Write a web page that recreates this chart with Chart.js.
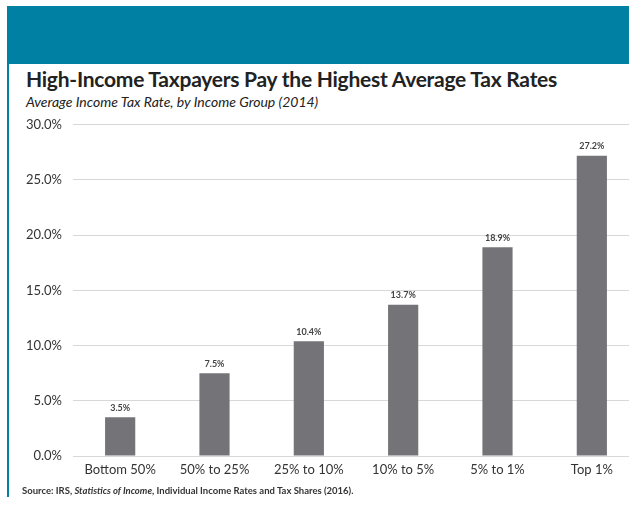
<!DOCTYPE html>
<html>
<head>
<meta charset="utf-8">
<script src="https://cdn.jsdelivr.net/npm/chart.js@4"></script>
<style>
  html, body { margin: 0; padding: 0; background: #fff; overflow: hidden; }
  body { width: 629px; height: 506px; position: relative; font-family: Lato, 'Open Sans', sans-serif; }
  #band { position: absolute; left: 7px; top: 6px; width: 640px; height: 58px; background: #0080a3; }
  #rule { position: absolute; left: 7px; top: 6px; width: 2px; height: 491px; background: #0080a3; }
  #title { position: absolute; left: 26px; top: 66px; font-size: 21px; font-weight: 700; color: #222; white-space: nowrap; letter-spacing: -0.25px; }
  #sub { position: absolute; left: 26px; top: 93px; font-size: 14px; font-style: italic; color: #222; white-space: nowrap; letter-spacing: 0; }
  #source { position: absolute; left: 22px; top: 485px; font-size: 9.5px; font-weight: 700; color: #333; white-space: nowrap; }
  #wrap { position: absolute; left: 0; top: 106px; width: 640px; height: 384px; }
</style>
</head>
<body>
<div id="band"></div>
<div id="rule"></div>
<div id="title">High-Income Taxpayers Pay the Highest Average Tax Rates</div>
<div id="sub">Average Income Tax Rate, by Income Group (2014)</div>
<div id="wrap"><canvas id="chart"></canvas></div>
<div id="source">Source: IRS, <i>Statistics of Income</i>, Individual Income Rates and Tax Shares (2016).</div>

<script>
  var categories = ['Bottom 50%', '50% to 25%', '25% to 10%', '10% to 5%', '5% to 1%', 'Top 1%'];
  var taxRates   = [3.5, 7.5, 10.4, 13.7, 18.9, 27.2];
  var yTicks     = [0, 5, 10, 15, 20, 25, 30];

  // value labels above each bar
  var barLabels = {
    id: 'barLabels',
    afterDatasetsDraw: function (chart) {
      var ctx = chart.ctx;
      var meta = chart.getDatasetMeta(0);
      ctx.save();
      ctx.font = 'bold 9px Lato, sans-serif';
      ctx.fillStyle = '#444';
      ctx.textAlign = 'center';
      ctx.textBaseline = 'bottom';
      meta.data.forEach(function (bar, i) {
        ctx.fillText(taxRates[i].toFixed(1) + '%', bar.x, bar.y - 5);
      });
      ctx.restore();
    }
  };

  new Chart(document.getElementById('chart'), {
    type: 'bar',
    data: {
      labels: categories,
      datasets: [{
        data: taxRates,
        backgroundColor: '#747478',
        barPercentage: 0.32,
        categoryPercentage: 1
      }]
    },
    options: {
      responsive: true,
      maintainAspectRatio: false,
      animation: false,
      layout: { padding: { top: 10, right: 1 } },
      plugins: { legend: { display: false }, tooltip: { enabled: false } },
      scales: {
        x: {
          grid: { display: false, drawTicks: false },
          border: { display: false },
          ticks: { color: '#333', font: { family: 'Lato', size: 13 }, padding: 6 },
          afterFit: function (s) { s.height = 34; }
        },
        y: {
          min: 0,
          max: 30,
          afterBuildTicks: function (s) { s.ticks = yTicks.map(function (v) { return { value: v }; }); },
          grid: { color: '#d8d8d8', drawTicks: false },
          border: { display: false },
          ticks: {
            color: '#333',
            font: { family: 'Lato', size: 13 },
            padding: 11,
            callback: function (v) { return v.toFixed(1) + '%'; }
          },
          afterFit: function (s) { s.width = 73; }
        }
      }
    },
    plugins: [barLabels]
  });
</script>
</body>
</html>
